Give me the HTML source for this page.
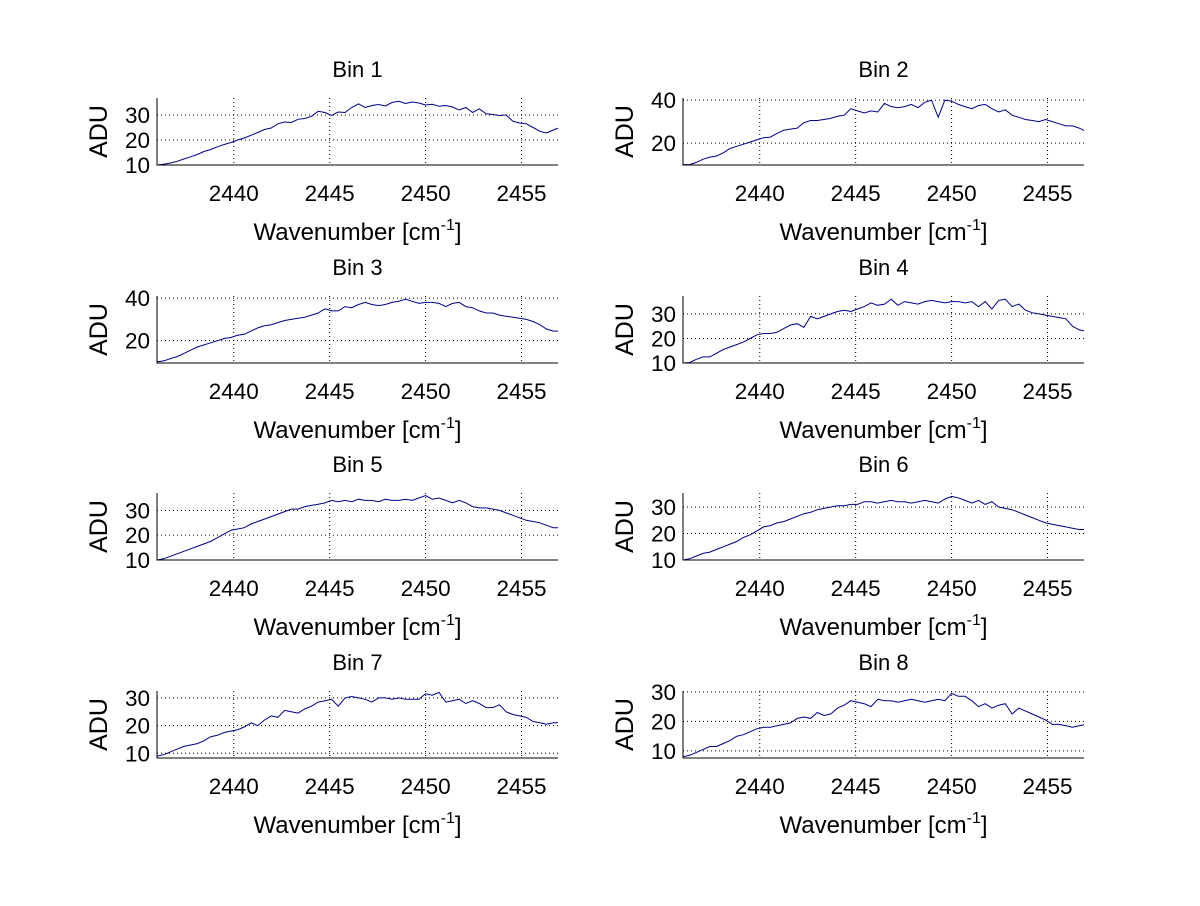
<!DOCTYPE html>
<html><head><meta charset="utf-8"><style>
html,body{margin:0;padding:0;background:#fff;}
svg text{font-family:"Liberation Sans",Arial,sans-serif;fill:#000;}
</style></head><body>
<svg id="fig" width="1200" height="901" viewBox="0 0 1200 901" xmlns="http://www.w3.org/2000/svg"></svg>
<script>
const binTitles = ["Bin 1","Bin 2","Bin 3","Bin 4","Bin 5","Bin 6","Bin 7","Bin 8"];
const xStart = 2436.0;
const xStep = 0.35;
const xMin = 2436.0, xMax = 2456.9;
const xTicks = [2440, 2445, 2450, 2455];
const yRanges = [[10,36.8],[9.8,41],[9.5,41],[10,37.3],[10,37],[10,35.3],[8.3,32.5],[7.6,30.3]];
const yTicks = [[10,20,30],[20,40],[20,40],[10,20,30],[10,20,30],[10,20,30],[10,20,30],[10,20,30]];
const bin1 = [10.0,10.3,10.8,11.5,12.4,13.3,14.2,15.4,16.2,17.3,18.2,19.0,20.0,20.8,21.9,23.0,24.2,24.8,26.5,27.2,27.0,28.3,28.6,29.5,31.5,31.0,29.8,31.2,31.0,33.0,34.5,33.0,33.8,34.2,33.6,35.0,35.5,34.6,35.2,34.8,34.0,34.3,33.5,33.8,33.2,32.0,33.0,31.0,32.5,30.5,30.2,29.8,30.0,27.5,26.8,26.5,25.0,23.5,22.8,24.0,25.0];
const bin2 = [10,10,11,12.5,13.5,14,15.5,17.5,18.5,19.5,20.5,21.5,22.5,22.8,24.5,26,26.5,27,29.5,30.5,30.5,31,31.5,32.5,33,36,35,34,35,34.5,38.5,37,36.5,37,38,36.5,39,40,32,40,39.5,38,37,36,37.5,38,36,34.5,35.5,33,32,31,30.5,30,31,30,29,28,28,27,25.5];
const bin3 = [10,10.5,11.5,12.5,14,15.5,17,18,19,20,21,21.5,22.5,23,24.5,26,27,27.5,28.5,29.5,30,30.5,31,32,33,35,34,34,36,35.5,37,38,37,36.5,37,38,38.5,39.5,38.5,37.5,38,38,37.5,36,37.5,38,36,35.5,34,33,33,32,31.5,31,30.5,30,29,27.5,25.5,24.5,24.5];
const bin4 = [10,10.2,11.5,12.5,12.5,14,15.5,16.5,17.5,18.5,20,21.5,22,22,22.5,24,25.5,26,24.5,29,28,29,30,31,31.5,31,32,33,34.5,33.5,34,36,33.5,35,34.5,34,35,35.5,35,34.5,35,35,34.5,35,33,35,32,35.5,36,33,34,31.5,30.5,30,29.5,29,28.5,28,25,23.5,23];
const bin5 = [10,10.5,11.5,12.5,13.5,14.5,15.5,16.5,17.5,19,20.5,22,22.5,23,24.5,25.5,26.5,27.5,28.5,29.5,30.5,30.5,31.5,32,32.5,33,34,33.5,34,33.5,34.5,34,34,33.5,34.5,34,34,34.5,34,35,36,34.5,35,34,33,34,33,31.5,31,31,30.5,30,29,28,27,26,25.5,25,24,23,23];
const bin6 = [10,10.5,11.5,12.5,13,14,15,16,17,18.5,19.5,21,22.5,23,24,24.5,25.5,26.5,27.5,28,29,29.5,30,30.5,30.5,31,31,32,32,31.5,32,32.5,32,32,31.5,32,32.5,32,31.5,33,34,33.5,32.5,31.5,32.5,31,32,30,29.5,29,28,27,26,25,24,23.5,23,22.5,22,21.5,21.5];
const bin7 = [9,9.5,10.5,11.5,12.5,13,13.5,14.5,16,16.5,17.5,18,18.5,19.5,21,20,22,23.5,23,25.5,25,24.5,26,27,28.5,29,29.5,27,30,30.5,30,29.5,28.5,30,30,29.5,30,29.5,29.5,29.5,31.5,31,32,28.5,29,29.5,28,29,28,26.5,26.5,27.5,25,24,23.5,23,21.5,21,20.5,21,21];
const bin8 = [8,8.5,9.5,10.5,11.5,11.5,12.5,13.5,15,15.5,16.5,17.5,18,18,18.5,19,19.5,21,21.5,21,23,22,22.5,24.5,25.5,27,26.5,26,25,27.5,27,27,26.5,27,27.5,27,26.5,27,27.5,27,29.5,28.5,28.5,27,25,26,24.5,25.5,26,22.5,24.5,23.5,22.5,21.5,20.5,19,19,18.5,18,18.5,19];
const series = [bin1,bin2,bin3,bin4,bin5,bin6,bin7,bin8];

const NS = "http://www.w3.org/2000/svg";
const svg = document.getElementById("fig");
const colLeft = [157, 683], colW = 401;
const rowTop = [98, 296, 493, 691], rowH = 67;
function mk(tag, attrs, parent){const e=document.createElementNS(NS,tag);for(const k in attrs)e.setAttribute(k,attrs[k]);parent.appendChild(e);return e;}

series.forEach((data, b) => {
  const L = colLeft[b%2], T = rowTop[Math.floor(b/2)], W = colW, H = rowH;
  const [y0,y1] = yRanges[b];
  const sx = v => L + (v - xMin)/(xMax - xMin)*W;
  const sy = v => T + H - (v - y0)/(y1 - y0)*H;
  const g = mk("g", {}, svg);
  
  
  const clipId = "clip"+b;
  const cp = mk("clipPath", {id: clipId}, g);
  mk("rect", {x:L, y:T-1, width:W, height:H+2}, cp);
  xTicks.forEach(t => {
    const gl = mk("line", {x1:sx(t), x2:sx(t), y1:T, y2:T+H, stroke:"#000", "stroke-width":1, "stroke-dasharray":"1,3"}, g);
    
    
    const tl = mk("text", {x:sx(t), y:T+H+36, "font-size":22.5, "text-anchor":"middle"}, g);
    tl.textContent = t;
    
    
  });
  yTicks[b].forEach(t => {
    const gl = mk("line", {x1:L, x2:L+W, y1:sy(t), y2:sy(t), stroke:"#000", "stroke-width":1, "stroke-dasharray":"1,3"}, g);
    
    
    const tl = mk("text", {x:L-7, y:sy(t)+8, "font-size":22.5, "text-anchor":"end"}, g);
    tl.textContent = t;
    
    
  });
  const pts = data.map((v,i) => sx(xStart + i*xStep).toFixed(1)+","+sy(v).toFixed(1)).join(" ");
  const line = mk("polyline", {points:pts, fill:"none", stroke:"#00008b", "stroke-width":1, "clip-path":"url(#"+clipId+")"}, g);
  
  
  const ax = mk("path", {d:`M${L},${T} V${T+H} H${L+W}`, fill:"none", stroke:"#000", "stroke-width":1}, g);
  
  
  const ti = mk("text", {x:L+W/2, y:T-21, "font-size":22, "text-anchor":"middle"}, g);
  ti.textContent = binTitles[b];
  
  
  const yl = mk("text", {x:0, y:0, "font-size":25, "text-anchor":"middle", transform:`translate(${L-50},${T+H/2}) rotate(-90)`}, g);
  yl.textContent = "ADU";
  
  
  const xl = mk("text", {x:L+W/2, y:T+H+75, "font-size":24, "text-anchor":"middle"}, g);
  
  
  xl.appendChild(document.createTextNode("Wavenumber [cm"));
  const sup = mk("tspan", {dy:-10, "font-size":16}, xl);
  sup.textContent = "-1";
  const close = mk("tspan", {dy:10}, xl);
  close.textContent = "]";
});
</script>
</body></html>
